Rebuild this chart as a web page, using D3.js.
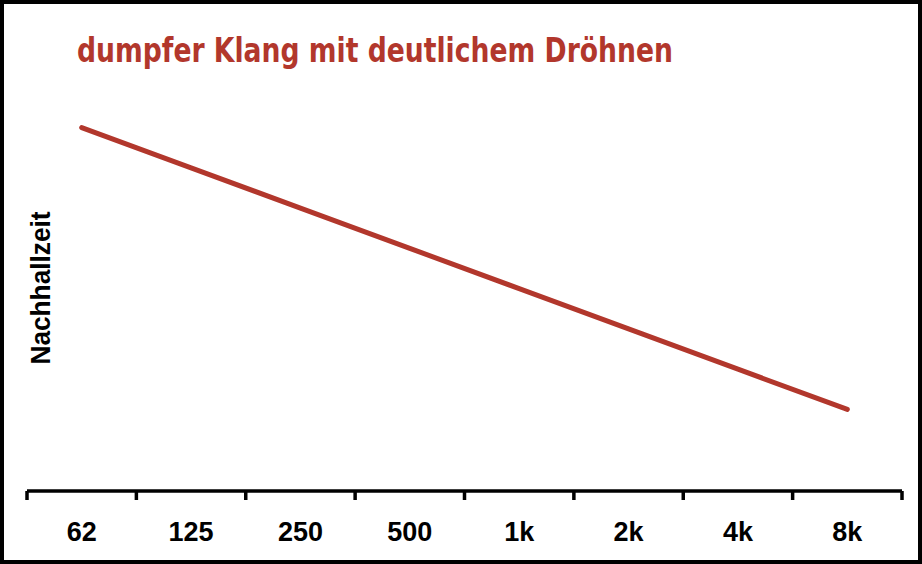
<!DOCTYPE html>
<html>
<head>
<meta charset="utf-8">
<script src="https://cdn.jsdelivr.net/npm/d3@7"></script>
<style>
html,body{margin:0;padding:0;background:#fff;}
svg{display:block;}
</style>
</head>
<body>
<svg id="chart" width="922" height="564"></svg>
<script>
const categories = ["62", "125", "250", "500", "1k", "2k", "4k", "8k"];
const values = [2.2, 2.0, 1.8, 1.6, 1.4, 1.2, 1.0, 0.8];
const title = "dumpfer Klang mit deutlichem Dröhnen";
const yLabel = "Nachhallzeit";

const svg = d3.select("#chart");
const W = 922, H = 564;
const red = "#b2372c";

svg.append("rect").attr("x", 2).attr("y", 2).attr("width", W - 4).attr("height", H - 4)
  .attr("fill", "#fff").attr("stroke", "#000").attr("stroke-width", 4);

const x = d3.scaleBand().domain(categories).range([27, 902]);
const y = d3.scaleLinear().domain([0.4, 2.6]).range([490, 47]);

const gx = svg.append("g").attr("transform", "translate(0,491)")
  .call(d3.axisBottom(x).tickSize(0).tickPadding(0));
gx.select(".domain").attr("stroke", "#000").attr("stroke-width", 3.5).attr("d", `M${x.range()[0]},0H${x.range()[1]}`);
gx.selectAll(".tick line").remove();
gx.selectAll(".tick text").attr("y", 50).attr("dy", null)
  .attr("font-family", "'Liberation Sans',Arial,sans-serif")
  .attr("font-weight", "bold").attr("font-size", 27).attr("fill", "#000");

// boundary ticks between bands
const edges = categories.map(c => x(c)).concat([x.range()[1]]);
gx.selectAll(".edge").data(edges).enter().append("line")
  .attr("x1", d => d).attr("x2", d => d).attr("y1", 0).attr("y2", 9)
  .attr("stroke", "#000").attr("stroke-width", 3.5);

const line = d3.line().x((d, i) => x(categories[i]) + x.bandwidth() / 2).y(d => y(d));
svg.append("path").datum(values).attr("d", line)
  .attr("fill", "none").attr("stroke", red).attr("stroke-width", 5).attr("stroke-linecap", "round");

svg.append("text").attr("x", 77).attr("y", 62).text(title)
  .attr("font-family", "'DejaVu Sans',sans-serif").attr("font-stretch", "condensed")
  .attr("font-weight", "bold").attr("font-size", 33).attr("fill", red)
  .attr("textLength", 596).attr("lengthAdjust", "spacingAndGlyphs");

svg.append("text").attr("transform", "translate(50,288) rotate(-90)")
  .attr("text-anchor", "middle").text(yLabel)
  .attr("font-family", "'Liberation Sans',Arial,sans-serif")
  .attr("font-weight", "bold").attr("font-size", 28).attr("fill", "#000")
  .attr("textLength", 153).attr("lengthAdjust", "spacingAndGlyphs");
</script>
</body>
</html>
